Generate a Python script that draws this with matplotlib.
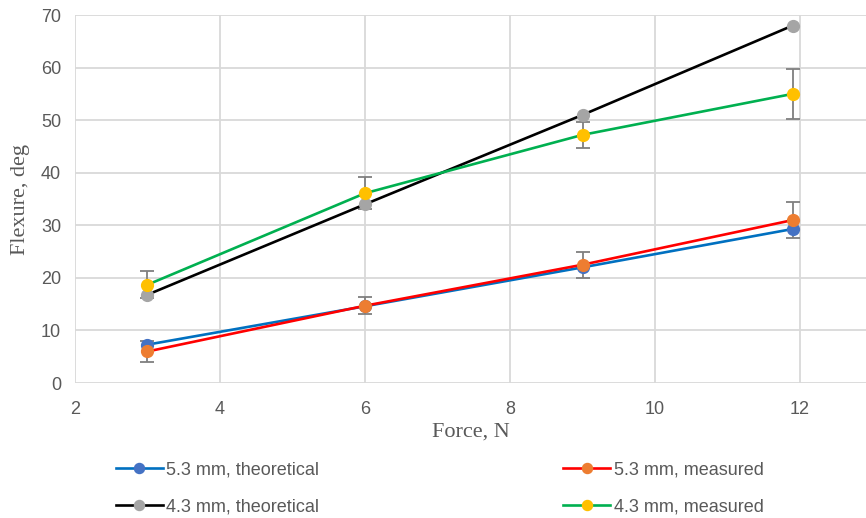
import matplotlib.pyplot as plt

# Flexure vs applied force for two cross-section thicknesses
force = [3, 6, 9, 11.9]

theo_53 = [7.3, 14.6, 22.0, 29.3]
meas_53 = [6.0, 14.7, 22.5, 31.0]
err_53 = [2.0, 1.6, 2.5, 3.4]

theo_43 = [16.8, 34.0, 51.0, 68.0]
meas_43 = [18.7, 36.1, 47.2, 55.0]
err_43 = [2.6, 3.0, 2.5, 4.8]

y_ticks = [0, 10, 20, 30, 40, 50, 60, 70]
x_ticks = [2, 4, 6, 8, 10, 12]

plt.rcParams['font.family'] = ['Liberation Sans', 'DejaVu Sans']

fig = plt.figure(figsize=(8.66, 5.18), dpi=100)
ax = fig.add_axes([0.0866, 0.2606, 0.9134, 0.7104])

grid_c = '#d9d9d9'
err_c = '#7f7f7f'
ms = 8.5
lw = 1.9

h1, = ax.plot(force, theo_53, color='#0070C0', lw=lw, marker='o', ms=ms,
              mfc='#4472C4', mec='#4472C4', zorder=3)
ax.errorbar(force, meas_53, yerr=err_53, fmt='none', ecolor=err_c,
            elinewidth=1.3, capsize=5, capthick=1.3, zorder=2)
h2, = ax.plot(force, meas_53, color='#FF0000', lw=lw, marker='o', ms=ms,
              mfc='#ED7D31', mec='#ED7D31', zorder=4)

h3, = ax.plot(force, theo_43, color='black', lw=lw, marker='o', ms=ms,
              mfc='#A5A5A5', mec='#A5A5A5', zorder=3)
ax.errorbar(force, meas_43, yerr=err_43, fmt='none', ecolor=err_c,
            elinewidth=1.3, capsize=5, capthick=1.3, zorder=2)
h4, = ax.plot(force, meas_43, color='#00B050', lw=lw, marker='o', ms=ms,
              mfc='#FFC000', mec='#FFC000', zorder=4)

ax.set_xlim(2, 12.91)
ax.set_ylim(0, 70)
ax.set_xticks(x_ticks)
ax.set_yticks(y_ticks)
ax.grid(True, color=grid_c, lw=1.3)
ax.set_axisbelow(True)
for s in ax.spines.values():
    s.set_visible(False)
ax.tick_params(length=0, labelsize=13, colors='#595959')
ax.tick_params(axis='x', pad=13)
ax.tick_params(axis='y', pad=10)

ax.set_xlabel('Force, N', family='Liberation Serif', fontsize=16,
              color='#595959', labelpad=3)
ax.set_ylabel('Flexure, deg', family='Liberation Serif', fontsize=16,
              color='#595959', labelpad=8)

labels = ['5.3 mm, theoretical', '4.3 mm, theoretical',
          '5.3 mm, measured', '4.3 mm, measured']
fig.legend([h1, h3, h2, h4], labels, ncol=2, loc='lower left',
           bbox_to_anchor=(0.115, -0.026), frameon=False, fontsize=13,
           handlelength=2.6, handletextpad=0.2, columnspacing=13.5,
           labelcolor='#595959', markerscale=0.85, labelspacing=1.1)

fig.savefig('out.png', dpi=100)
